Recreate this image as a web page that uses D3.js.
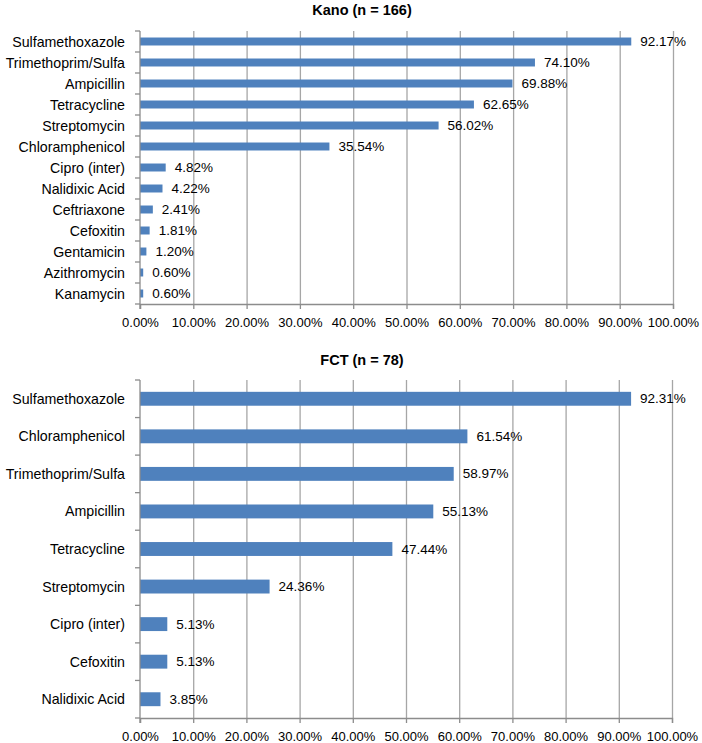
<!DOCTYPE html>
<html>
<head>
<meta charset="utf-8">
<script src="https://cdn.jsdelivr.net/npm/d3@7"></script>
<style>
  html, body { margin: 0; padding: 0; background: #fff; }
  svg { display: block; }
  text { font-family: "Liberation Sans", Arial, sans-serif; fill: #000; }
</style>
</head>
<body>
<svg id="chart" width="702" height="743"></svg>
<script>
// ---- data ----
const kanoTitle = "Kano (n = 166)";
const kanoCategories = ["Sulfamethoxazole", "Trimethoprim/Sulfa", "Ampicillin", "Tetracycline", "Streptomycin",
  "Chloramphenicol", "Cipro (inter)", "Nalidixic Acid", "Ceftriaxone", "Cefoxitin", "Gentamicin",
  "Azithromycin", "Kanamycin"];
const kanoValues = [92.17, 74.10, 69.88, 62.65, 56.02, 35.54, 4.82, 4.22, 2.41, 1.81, 1.20, 0.60, 0.60];

const fctTitle = "FCT (n = 78)";
const fctCategories = ["Sulfamethoxazole", "Chloramphenicol", "Trimethoprim/Sulfa", "Ampicillin", "Tetracycline",
  "Streptomycin", "Cipro (inter)", "Cefoxitin", "Nalidixic Acid"];
const fctValues = [92.31, 61.54, 58.97, 55.13, 47.44, 24.36, 5.13, 5.13, 3.85];

const xTicks = [0, 10, 20, 30, 40, 50, 60, 70, 80, 90, 100];

// ---- drawing ----
const svg = d3.select("#chart");
const barColor = "#4F81BD";
const gridColor = "#A6A6A6";
const axisColor = "#8C8C8C";

function panel(title, cats, vals, cfg) {
  const g = svg.append("g");
  const x = d3.scaleLinear().domain([0, 100]).range([cfg.x0, cfg.x1]);
  const y = d3.scaleBand().domain(cats).range([cfg.y0, cfg.y1]).paddingInner(cfg.pad).paddingOuter(cfg.pad / 2);

  // title
  g.append("text")
    .attr("x", cfg.titleX).attr("y", cfg.titleY)
    .attr("text-anchor", "middle")
    .attr("dominant-baseline", "central")
    .style("font-weight", "bold").style("font-size", "14.5px")
    .text(title);

  // gridlines
  const grid = g.append("g").attr("transform", `translate(0,${cfg.y1})`)
    .call(d3.axisBottom(x).tickValues(xTicks.slice(1)).tickSize(-(cfg.y1 - cfg.y0)).tickFormat(""));
  grid.select(".domain").remove();
  grid.selectAll(".tick line").attr("stroke", gridColor).attr("stroke-width", 1.3);

  // bars
  g.selectAll("rect.bar").data(vals).enter().append("rect")
    .attr("class", "bar")
    .attr("x", x(0))
    .attr("y", (d, i) => y(cats[i]))
    .attr("width", d => x(d) - x(0))
    .attr("height", y.bandwidth())
    .attr("fill", barColor);

  // value labels
  g.selectAll("text.val").data(vals).enter().append("text")
    .attr("class", "val")
    .attr("x", d => x(d) + 9)
    .attr("y", (d, i) => y(cats[i]) + y.bandwidth() / 2)
    .attr("dominant-baseline", "central")
    .style("font-size", "13.5px")
    .text(d => d.toFixed(2) + "%");

  // x axis
  const xa = g.append("g").attr("transform", `translate(0,${cfg.y1})`)
    .call(d3.axisBottom(x).tickValues(xTicks).tickSize(5).tickPadding(9)
      .tickFormat(d => d.toFixed(2) + "%"));
  xa.select(".domain").attr("stroke", axisColor).attr("stroke-width", 1.3);
  xa.selectAll(".tick line").attr("stroke", axisColor).attr("stroke-width", 1.3);
  xa.selectAll(".tick text").style("font-size", "13px").style("font-family", '"Liberation Sans", Arial, sans-serif').attr("fill", "#000");

  // y axis (category axis with ticks at band boundaries)
  const step = y.step();
  const bounds = d3.range(cats.length + 1).map(i => cfg.y0 + i * step);
  g.append("line")
    .attr("x1", x(0)).attr("x2", x(0))
    .attr("y1", cfg.y0).attr("y2", cfg.y1 + 5)
    .attr("stroke", axisColor).attr("stroke-width", 1.3);
  g.selectAll("line.ytick").data(bounds).enter().append("line")
    .attr("class", "ytick")
    .attr("x1", x(0) - 5).attr("x2", x(0))
    .attr("y1", d => d).attr("y2", d => d)
    .attr("stroke", axisColor).attr("stroke-width", 1.3);
  g.selectAll("text.cat").data(cats).enter().append("text")
    .attr("class", "cat")
    .attr("x", x(0) - 15)
    .attr("y", d => y(d) + y.bandwidth() / 2)
    .attr("text-anchor", "end")
    .attr("dominant-baseline", "central")
    .style("font-size", "14.2px")
    .text(d => d);
}

panel(kanoTitle, kanoCategories, kanoValues,
  { x0: 140, x1: 673, y0: 31, y1: 304, pad: 0.62, titleX: 362, titleY: 10 });
panel(fctTitle, fctCategories, fctValues,
  { x0: 140, x1: 672, y0: 380, y1: 718, pad: 0.63, titleX: 362, titleY: 360 });
</script>
</body>
</html>
